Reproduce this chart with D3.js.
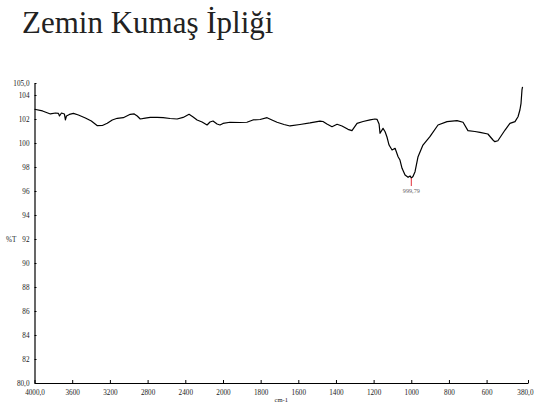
<!DOCTYPE html>
<html>
<head>
<meta charset="utf-8">
<script src="https://cdn.jsdelivr.net/npm/d3@7"></script>
<style>
  html, body { margin: 0; padding: 0; background: #fff; }
  svg { display: block; }
</style>
</head>
<body>
<svg id="chart" width="534" height="408"></svg>
<script>
// FTIR spectrum: wavenumber (cm-1) and transmittance (%T)
const wavenumbers = [4000,3915,3831,3778,3746,3735,3714,3683,3672,3661,
  3630,3587,3534,3460,3397,3333,3280,3228,3175,3122,
  3058,2984,2942,2910,2878,2825,2772,2698,2635,2561,
  2487,2423,2360,2317,2275,2222,2169,2138,2106,2063,
  2032,2000,1963,1910,1873,1841,1803,1766,1740,1713,
  1676,1644,1591,1538,1485,1469,1448,1421,1394,1368,
  1336,1315,1288,1256,1219,1193,1182,1171,1166,1150,
  1139,1129,1118,1102,1086,1070,1060,1049,1033,1017,
  1006,999.79,991,980,964,938,901,858,810,757,
  725,699,662,635,593,566,556,540,502,476,
  449,433,423,417,412,409];
const transmittance = [102.81,102.67,102.42,102.5,102.47,102.25,102.5,102.42,101.92,102.25,
  102.38,102.47,102.33,102.08,101.83,101.44,101.46,101.64,101.92,102.06,
  102.11,102.39,102.42,102.25,102.0,102.08,102.14,102.13,102.11,102.04,
  102.0,102.13,102.39,102.17,101.92,101.75,101.5,101.75,101.83,101.58,
  101.5,101.63,101.73,101.71,101.73,101.92,101.96,102.11,101.92,101.73,
  101.54,101.42,101.54,101.67,101.83,101.79,101.58,101.36,101.56,101.42,
  101.14,101.03,101.64,101.79,101.92,102.0,101.97,101.58,100.81,101.22,
  100.94,100.5,99.83,99.42,99.56,98.86,98.58,97.89,97.33,97.14,
  97.25,97.08,97.21,97.61,98.86,99.83,100.53,101.5,101.78,101.86,
  101.73,101.03,100.96,100.89,100.75,100.25,100.11,100.19,101.08,101.64,
  101.78,102.19,102.75,103.31,104.42,104.67];

const xTicks = [4000,3600,3200,2800,2400,2000,1800,1600,1400,1200,1000,800,600,380];
const xTickLabels = ["4000,0","3600","3200","2800","2400","2000","1800","1600","1400","1200","1000","800","600","380,0"];
const yTicks = [80,82,84,86,88,90,92,94,96,98,100,102,104,105];
const yTickLabels = ["80,0","82","84","86","88","90","92","94","96","98","100","102","104","105,0"];

const titleText = "Zemin Kumaş İpliği";
const xTitle = "cm-1";
const yTitle = "%T";

const svg = d3.select("#chart");
const serif = "'Liberation Serif', 'Times New Roman', serif";
const labelSize = 7.2;

// x axis is expanded 2x below 2000 cm-1
const x = d3.scaleLinear().domain([4000, 2000, 380]).range([34.5, 223, 528]);
const y = d3.scaleLinear().domain([80, 105]).range([383, 83]);

// title
svg.append("text")
  .attr("x", 22).attr("y", 33)
  .attr("font-family", serif).attr("font-size", 31)
  .attr("fill", "#222")
  .text(titleText);

// x axis
const xAxis = d3.axisBottom(x)
  .tickValues(xTicks)
  .tickFormat((d, i) => xTickLabels[i])
  .tickSizeInner(-3).tickSizeOuter(0).tickPadding(7);
const gx = svg.append("g").attr("transform", `translate(0,${y(80)})`).call(xAxis);
gx.select(".domain").attr("stroke", "#000").attr("stroke-width", 1.2);
gx.selectAll(".tick line").attr("stroke", "#000");
gx.selectAll(".tick text").attr("font-family", serif).attr("font-size", labelSize).attr("fill", "#222");
// keep the last label inside the page
gx.selectAll(".tick text").filter(d => d === 380)
  .attr("text-anchor", "end").attr("x", 533 - x(380));

// y axis
const yAxis = d3.axisLeft(y)
  .tickValues(yTicks)
  .tickFormat((d, i) => yTickLabels[i])
  .tickSizeInner(-2).tickSizeOuter(0).tickPadding(5);
const gy = svg.append("g").attr("transform", `translate(${x(4000)},0)`).call(yAxis);
gy.select(".domain").attr("stroke", "#000").attr("stroke-width", 1.2);
gy.selectAll(".tick line").attr("stroke", "#000");
gy.selectAll(".tick text").attr("font-family", serif).attr("font-size", labelSize).attr("fill", "#222");

// axis titles
svg.append("text")
  .attr("x", (x(4000) + x(380)) / 2).attr("y", 402)
  .attr("text-anchor", "middle")
  .attr("font-family", serif).attr("font-size", 6.5).attr("fill", "#222")
  .text(xTitle);
svg.append("text")
  .attr("x", 6).attr("y", y(92) + 2.5)
  .attr("font-family", serif).attr("font-size", labelSize).attr("fill", "#222")
  .text(yTitle);

// spectrum line
const data = wavenumbers.map((w, i) => ({ w, t: transmittance[i] }));
const line = d3.line().x(d => x(d.w)).y(d => y(d.t));
svg.append("path")
  .datum(data)
  .attr("fill", "none")
  .attr("stroke", "#000")
  .attr("stroke-width", 1.2)
  .attr("stroke-linejoin", "round")
  .attr("d", line);

// peak marker at the band minimum
const peak = data.reduce((a, b) => (b.t < a.t ? b : a));
svg.append("line")
  .attr("x1", x(peak.w)).attr("x2", x(peak.w))
  .attr("y1", y(peak.t)).attr("y2", y(peak.t) + 8)
  .attr("stroke", "#e0303a").attr("stroke-width", 1);
svg.append("text")
  .attr("x", x(peak.w)).attr("y", y(peak.t) + 15)
  .attr("text-anchor", "middle")
  .attr("font-family", serif).attr("font-size", 6.2).attr("fill", "#666")
  .text(d3.format(".2f")(peak.w).replace(".", ","));
</script>
</body>
</html>
